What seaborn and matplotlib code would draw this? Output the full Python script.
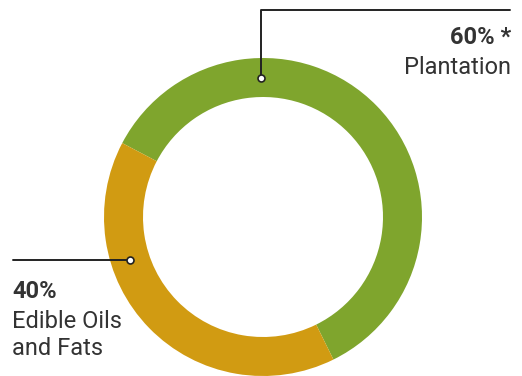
import numpy as np
import matplotlib
matplotlib.use('Agg')
import matplotlib.pyplot as plt
import seaborn as sns

# data
segments = ['Plantation', 'Edible Oils\nand Fats']
shares = [60, 40]
pct_labels = ['60% *', '40%']
colors = ['#7FA52D', '#D19B12']

sns.set_style('white')
plt.rcParams['font.family'] = ['Roboto', 'DejaVu Sans']

W, H = 522, 376
fig = plt.figure(figsize=(W / 100, H / 100), dpi=100)
ax = fig.add_axes([0, 0, 1, 1])

# donut geometry in pixel units (y measured upwards)
cx, cy = 263, H - 217
r_out, ring = 159, 39
ax.pie(shares, colors=colors, startangle=152.3, counterclock=False,
       radius=r_out, center=(cx, cy),
       wedgeprops=dict(width=ring, linewidth=0))

r_mid = r_out - ring / 2
ink = '#222222'
txt = '#333333'
fs = 17

# Plantation callout: dot on the ring, line up then right
a = np.deg2rad(91)
px, py = cx + r_mid * np.cos(a), cy + r_mid * np.sin(a)
top = H - 9.5
ax.plot([px, px, 510], [py, top, top], color=ink, lw=1.4, zorder=3)
ax.plot(px, py, 'o', ms=5, mfc='white', mec=ink, mew=1.2, zorder=4)
ax.text(511, H - 43.5, pct_labels[0], ha='right', va='baseline',
        fontsize=fs, fontweight='bold', color=txt)
ax.text(511, H - 73.5, segments[0], ha='right', va='baseline',
        fontsize=fs, color=txt)

# Edible oils callout: dot on the ring, line left
a = np.deg2rad(197.9)
px, py = cx + r_mid * np.cos(a), cy + r_mid * np.sin(a)
ax.plot([13, px], [py, py], color=ink, lw=1.4, zorder=3)
ax.plot(px, py, 'o', ms=5, mfc='white', mec=ink, mew=1.2, zorder=4)
ax.text(12, H - 298.5, pct_labels[1], ha='left', va='baseline',
        fontsize=fs, fontweight='bold', color=txt)
ax.text(12, H - 355, segments[1], ha='left', va='baseline',
        fontsize=fs, color=txt, linespacing=1.2)

ax.set_xlim(0, W)
ax.set_ylim(0, H)
ax.set_aspect('auto')
ax.axis('off')

fig.savefig('out.png', dpi=100, facecolor='white')
